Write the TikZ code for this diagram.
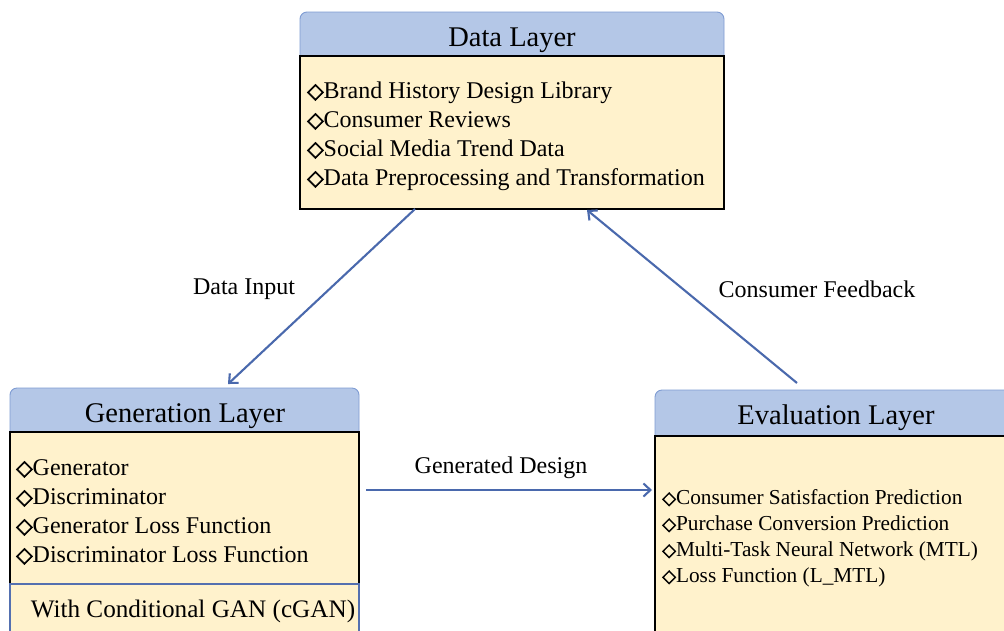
\documentclass[tikz,border=0pt]{standalone}
\usepackage{fontspec}
\setmainfont{Liberation Serif}
\newfontfamily\symfnt[FakeBold=2.5]{DejaVu Sans}
\usetikzlibrary{arrows.meta,calc}

\definecolor{hdrfill}{HTML}{B4C7E7}
\definecolor{hdrline}{HTML}{7F9CD3}
\definecolor{bodyfill}{HTML}{FFF2CC}
\definecolor{arrowblue}{HTML}{4A69AD}
\definecolor{sepblue}{HTML}{5470B0}

% bullet diamond in front of each list item
\newcommand{\dmd}[1]{{\symfnt\fontsize{#1}{#1}\selectfont ◇}}

\tikzset{
  hdrbox/.style={draw=hdrline, fill=hdrfill, line width=0.9pt, rounded corners=7pt},
  bodybox/.style={draw=black, fill=bodyfill, line width=1.1pt},
  title/.style={font=\fontsize{28.5}{30}\selectfont, anchor=base, inner sep=0pt},
  item/.style={font=\fontsize{24}{28}\selectfont, anchor=base west, inner sep=0pt},
  smallitem/.style={font=\fontsize{21.3}{25}\selectfont, anchor=base west, inner sep=0pt},
  lbl/.style={font=\fontsize{24}{26}\selectfont, inner sep=0pt},
  area/.style={draw=none, inner sep=0pt, outer sep=0pt, anchor=north west},
  arr/.style={draw=arrowblue, line width=2.1pt, -{Straight Barb[length=7pt,width=13pt,line width=2.1pt]}}
}

\begin{document}
\begin{tikzpicture}[x=1pt, y=-1pt]
\useasboundingbox (0,0) rectangle (1004,630);
\fill[white] (0,0) rectangle (1004,630);

% layer areas used as connector anchors
\node[area, minimum width=424pt, minimum height=197pt] (data) at (300,12) {};
\node[area, minimum width=349pt, minimum height=242pt] (gen) at (10,388) {};
\node[area, minimum width=349pt, minimum height=240pt] (eval) at (655,390) {};

% ---- Data Layer ----
\path[hdrbox] (300,12) rectangle (724,70);
\path[bodybox] (300,56) rectangle (724,209);
\node[title] (dataT) at (512,46) {Data Layer};
\foreach \t [count=\i] in {Brand History Design Library, Consumer Reviews,
    Social Media Trend Data, Data Preprocessing and Transformation}
  \node[item] (dataI\i) at (307,{98+29*(\i-1)}) {\dmd{21.5}\t};

% ---- Generation Layer ----
\path[hdrbox] (10,388) rectangle (359,446);
\path[bodybox] (10,432) rectangle (359,584);
\path[draw=sepblue, fill=bodyfill, line width=1.1pt] (10,640) -- (10,584) -- (359,584) -- (359,640);
\node[title] (genT) at (185,422) {Generation Layer};
\foreach \t [count=\i] in {Generator, Discriminator,
    Generator Loss Function, Discriminator Loss Function}
  \node[item] (genI\i) at (16,{475+29*(\i-1)}) {\dmd{21.5}\t};
\node[item, anchor=base, font=\fontsize{25.2}{28}\selectfont] (genC) at (193,617) {With Conditional GAN (cGAN)};

% ---- Evaluation Layer ----
\path[hdrbox] (655,390) rectangle (1020,450);
\path[bodybox] (655,436) rectangle (1020,640);
\node[title] (evalT) at (836,424) {Evaluation Layer};
\foreach \t [count=\i] in {Consumer Satisfaction Prediction, Purchase Conversion Prediction,
    Multi-Task Neural Network (MTL), Loss Function (L\_MTL)}
  \node[smallitem] (evalI\i) at (662,{504+26*(\i-1)}) {\dmd{18}\t};

% ---- connectors ----
\draw[arr] ([xshift=115pt]data.south west) -- ([xshift=218pt,yshift=4pt]gen.north west);
\draw[arr] ([xshift=142pt,yshift=7pt]eval.north west) -- ([xshift=287pt,yshift=-1pt]data.south west);
\draw[arr] ([xshift=7pt,yshift=-102pt]gen.north east) -- ([xshift=-3pt,yshift=-100pt]eval.north west);

% ---- connector labels ----
\node[lbl] (lblIn) at (244,289) {Data Input};
\node[lbl] (lblFb) at (817,289) {Consumer Feedback};
\node[lbl] (lblGen) at (501,468) {Generated Design};
\end{tikzpicture}
\end{document}
